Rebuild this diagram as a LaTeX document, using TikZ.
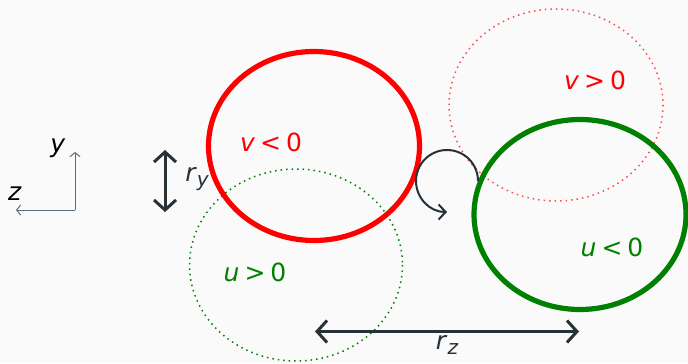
\documentclass[tikz,border=0pt]{standalone}
\usepackage{fontspec}
\setmainfont{DejaVu Sans}
\usetikzlibrary{arrows.meta}
\definecolor{bg}{HTML}{FAFAFA}
\definecolor{darkc}{HTML}{263238}
\definecolor{axc}{HTML}{546E7A}
\definecolor{grn}{HTML}{008000}
\definecolor{rd}{HTML}{FF0000}
\tikzset{
  solidell/.style={line width=2.6pt},
  dotell/.style={line width=0.75pt, dotted},
  lbl/.style={font=\fontsize{12.5}{15}\selectfont, inner sep=0pt},
  dimarrow/.style={darkc, line width=1.5pt, {Straight Barb[length=5pt,width=11pt]}-{Straight Barb[length=5pt,width=11pt]}},
  axarrow/.style={axc, line width=0.5pt, -{Straight Barb[length=2pt,width=5pt]}},
  rotarrow/.style={darkc, line width=1pt, -{Straight Barb[length=3.5pt,width=7.5pt]}}
}
\newcommand{\sub}[2]{\textit{#1}\raisebox{-0.35ex}{\fontsize{10}{12}\selectfont\itshape #2}}
\newcommand{\rel}[3]{\textit{#1}\hspace{0.2em}#2\hspace{0.2em}#3}
\begin{document}
\begin{tikzpicture}[x=0.5pt,y=-0.5pt]
\fill[bg] (0,0) rectangle (688,363);
\useasboundingbox (0,0) rectangle (688,363);
% dotted ellipses
\draw[dotell, rd!70] (556,105) ellipse [x radius=107, y radius=96];
\draw[dotell, grn] (296,265) ellipse [x radius=106.5, y radius=96];
% solid ellipses
\draw[solidell, rd] (314,146) ellipse [x radius=105.5, y radius=94.5];
\draw[solidell, grn] (580,214.5) ellipse [x radius=106, y radius=95];
% labels
\node[lbl, text=rd] (vneg) at (271,142) {\rel{v}{<}{0}};
\node[lbl, text=rd] (vpos) at (595,80) {\rel{v}{>}{0}};
\node[lbl, text=grn] (uneg) at (612,247) {\rel{u}{<}{0}};
\node[lbl, text=grn] (upos) at (255,272) {\rel{u}{>}{0}};
% r_y arrow
\coordinate (ryt) at (165,150);
\coordinate (ryb) at (165,212);
\draw[dimarrow] (ryt) -- (ryb);
\node[lbl, text=darkc] (ry) at (197,179) {\sub{r}{y}};
% r_z arrow
\coordinate (rzl) at (315,331.5);
\coordinate (rzr) at (579,331.5);
\draw[dimarrow] (rzl) -- (rzr);
\node[lbl, text=darkc] (rz) at (447,345) {\sub{r}{z}};
% axes
\coordinate (orig) at (75,210);
\coordinate (ytip) at (75,152);
\coordinate (ztip) at (16,210);
\draw[axarrow] (orig) -- (ytip);
\draw[axarrow] (orig) -- (ztip);
\node[lbl, text=black] (ylab) at (58,148) {\textit{y}};
\node[lbl, text=black] (zlab) at (15,194) {\textit{z}};
% rotation arrow
\coordinate (rotstart) at (478,181);
\draw[rotarrow] (rotstart) arc [start angle=0, end angle=-270, radius=31];
\end{tikzpicture}
\end{document}
